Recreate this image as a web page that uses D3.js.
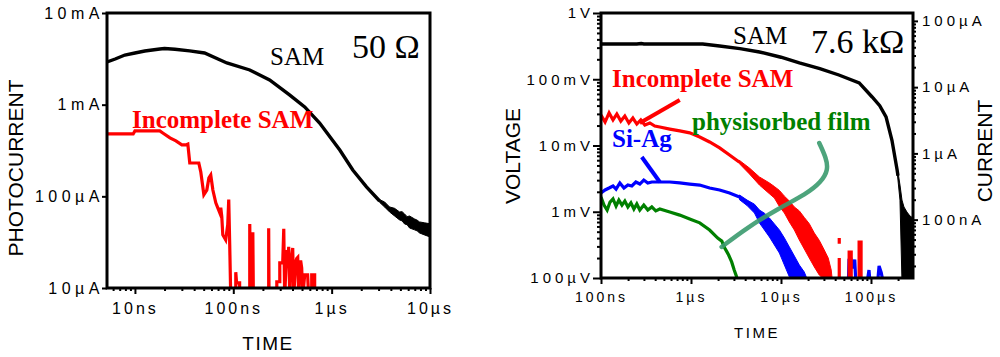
<!DOCTYPE html>
<html>
<head>
<meta charset="utf-8">
<script src="https://cdn.jsdelivr.net/npm/d3@7"></script>
<style>
	body { margin: 0; background: #fff; }
	svg { display: block; }
</style>
</head>
<body>
<svg id="chart" width="1000" height="357"></svg>
<script>

// left panel (50 ohm): time in ns, photocurrent in µA
var samLeft = [[5.2,2924],[6.3,3150],[7.9,3480],[10,3660],[12.6,3850],[15,3950],[17.9,4050],[20,4100],[25.5,4020],[36,3860],[51,3660],[86,2850],[147,2390],[234,1860],[373,1280],[532,944],[755,631],[1210,320],[1640,194],[2260,127],[3072,89]]
// noisy tail: [time, upper, lower]
var samLeftTail = [[3072,92,86],[3452,86.9,76.6],[3880,76.6,67.6],[4362,74,61.1],[4903,67.6,55.3],[5200,68,54],[5510,64.3,50],[5850,60,49],[6192,61,45.2],[6960,56.7,43.1],[7400,55,42],[7820,52.6,39.9],[8790,51.4,37.9],[10000,50.2,36.1]]

var incompleteLeft = [[5.2,479],[9.6,479],[10,517],[17.9,517],[19.2,491],[22.7,434],[26.1,402],[30,364],[33,364],[34.5,372],[36.1,231],[44.6,231],[46.7,185],[50.2,104],[53.8,117],[56.5,159],[59,171],[62,117],[66.4,85],[69.6,75],[73,66],[74.6,75],[76.4,60],[78.2,38],[83.7,33.5],[87.8,49],[89.9,92],[92,29.5],[94.2,8],
	[106,8],[106,14.9],[108,11.4],[116,11.4],[116,8],[147,8],[147,49.8],[150,8],[158,8],[158,40.6],[160,8],[229,8],[229,44.8],[231,8],
	[277,8],[277,11.7],[297,11.7],[297,18.8],[318,18.8],[326,44.2],[333,8],[349,26],[357,18.8],[366,28.1],[375,8],[383,19.3],[393,22],[402,27.3],[411,8],[431,19.3],[441,21],[452,21.6],[462,8],[473,17.9],[484,20],[496,16.6],[508,8],[532,13.9],[570,13.9],[584,8],[627,8],[627,13.9],[672,13.9],[672,8]]

var leftTimeTicks = [10, 100, 1000, 10000]
var leftTimeLabels = ['10ns', '100ns', '1µs', '10µs']
var leftCurrentTicks = [10, 100, 1000, 10000]
var leftCurrentLabels = ['10µA', '100µA', '1mA', '10mA']

// right panel (7.6 kohm): time in µs, voltage in mV
var samRight = [[0.1,340],[0.25,340],[0.28,346],[0.3,340],[1.35,340],[2.08,318],[3.5,290],[5.77,258],[10,215],[16,176],[27,145],[44,116],[74,88],[103,54],[125,40],[147,27],[171,12],[195,4.3],[199.5,3.5]]
var samRightTail = [[195,4.3,4.0],[199.5,3.98,3.01],[210,2.53,1.5],[221,1.5,0.09],[232.6,1.18,0.09],[251,0.99,0.09],[271,0.863,0.09],[293,0.805,0.09]]

var incompleteRight = [[0.1,28.9],[0.111,22.6],[0.123,31],[0.136,24.3],[0.15,29.9],[0.166,23.4],[0.184,27.9],[0.204,21.9],[0.226,26],[0.25,21.1],[0.277,24.3],[0.307,20.4],[0.349,21.9],[0.396,19.7],[0.45,19],[0.581,17.7],[0.75,16.6],[0.967,15.5],[1.25,13.4],[1.61,11.3],[2.08,9.2],[2.68,7.2],[3.46,5.6],[3.46,null],
	[44.4,0.08],[44.4,0.2],[44.4,null],[44.4,0.4],[44.4,0.33],[44.4,null],[57.2,0.08],[57.2,0.247],[60.3,0.247],[60.3,0.08],[73.8,0.08],[73.8,0.349],[77.6,0.349],[77.6,0.08]]
var incompleteRightTail = [[3.46,5.95,5.3],[4.46,4.57,3.72],[5.76,3.35,2.53],[7.44,2.72,1.87],[8.45,2.4,1.61],[9.6,2.1,1.2],[10.91,1.72,0.957],[12.39,1.45,0.7],[14.08,1.18,0.53],[15.99,1.03,0.375],[18.16,0.82,0.274],[20.63,0.66,0.2],[23.44,0.478,0.147],[26.62,0.37,0.111],[30.24,0.265,0.095],[33.49,0.2,0.095],[36.15,0.132,0.095],[37.1,0.095,0.095]]

var siAgRight = [[0.1,1.92],[0.111,2.13],[0.123,2.28],[0.136,2.45],[0.147,2.2],[0.162,2.72],[0.18,2.28],[0.199,2.53],[0.22,2.45],[0.244,2.81],[0.27,2.62],[0.299,3.01],[0.331,2.72],[0.367,2.81],[0.45,2.81],[0.581,2.81],[0.75,2.72],[0.967,2.62],[1.25,2.53],[1.61,2.28],[2.08,2.13],[2.68,1.92],[3.46,1.67],[3.46,null],
	[56,0.08],[57,0.187],[60,0.19],[63,0.14],[66,0.19],[68,0.08],[90,0.08],[95,0.132],[98,0.08],[118,0.08],[123,0.152],[130,0.12],[138,0.08]]
var siAgRightTail = [[3.46,1.79,1.52],[4.2,1.5,1.24],[5.07,1.3,0.957],[5.77,1.06,0.676],[6.55,0.95,0.531],[7.44,0.805,0.416],[8.45,0.654,0.315],[9.6,0.531,0.238],[10.91,0.402,0.157],[12.39,0.294,0.104],[14.08,0.215,0.095],[15.99,0.157,0.095],[18.16,0.123,0.095],[19.6,0.095,0.095]]

var physisorbedRight = [[0.1,1.67],[0.108,1.26],[0.117,1.06],[0.126,1.4],[0.136,1.56],[0.147,1.22],[0.158,1.5],[0.171,1.26],[0.184,1.45],[0.199,1.18],[0.215,1.36],[0.232,1.1],[0.25,1.31],[0.27,1.06],[0.299,1.26],[0.331,1.06],[0.367,1.18],[0.406,1.03],[0.45,1.1],[0.581,0.99],[0.75,0.89],[0.967,0.78],[1.25,0.68],[1.61,0.53],[1.98,0.4],[2.2,0.36],[2.37,0.284],[2.5,0.25],[2.62,0.222],[2.83,0.175],[3.02,0.132],[3.19,0.107],[3.38,0.08]]

// pointer marks drawn in data units of the right panel
var redPointer = [[0.27,21.9],[0.75,48.6]]
var bluePointer = [[0.284,6.7],[0.45,2.81]]
var greenPointer = [[26.6,10.9],[31.8,6.48],[33.5,4.27],[28,2.81],[19.1,1.85],[9.6,1.14],[4.14,0.57],[2.19,0.294]]

var rightTimeTicks = [0.1, 1, 10, 100]
var rightTimeLabels = ['100ns', '1µs', '10µs', '100µs']
var voltTicks = [0.1, 1, 10, 100, 1000]
var voltLabels = ['100µV', '1mV', '10mV', '100mV', '1V']
var ampTicks = [100, 1000, 10000, 100000]
var ampLabels = ['100nA', '1µA', '10µA', '100µA']
var loadOhm = 7600

var sans = "'Liberation Sans', Arial, sans-serif"
var serif = "'Liberation Serif', 'Times New Roman', serif"

var svg = d3.select('#chart')
svg.append('rect').attr('width', 1000).attr('height', 357).attr('fill', '#fff')

function logAxis(g, make, scale, majors, labels, o) {
	if (o.minor) {
		var minors = scale.ticks().filter(d => !majors.some(m => Math.abs(m - d) / m < 1e-6))
		g.append('g')
			.call(make(scale).tickValues(minors).tickSize(o.minor).tickFormat(''))
	}
	g.append('g')
		.call(make(scale).tickValues(majors).tickSize(o.major).tickPadding(o.pad).tickFormat((d, i) => labels[i]))
	g.selectAll('.domain').remove()
	g.selectAll('line').attr('stroke', '#000').attr('stroke-width', 2)
	g.selectAll('text')
		.attr('fill', '#000')
		.style('font-family', sans)
		.style('font-size', o.font + 'px')
		.style('letter-spacing', o.ls + 'px')
}

function addLine(g, data, x, y, color, width) {
	g.append('path')
		.datum(data)
		.attr('fill', 'none')
		.attr('stroke', color)
		.attr('stroke-width', width)
		.attr('stroke-linejoin', 'miter')
		.attr('d', d3.line().defined(d => d[1] != null).x(d => x(d[0])).y(d => y(d[1])))
}

// filled band for the part of a trace that is lost in noise
function addBand(g, data, x, y, color) {
	g.append('path')
		.datum(data)
		.attr('fill', color)
		.attr('stroke', color)
		.attr('stroke-width', 1)
		.attr('d', d3.area().x(d => x(d[0])).y0(d => y(d[2])).y1(d => y(d[1])))
}

function serifLabel(txt, xp, yp, color, size, weight) {
	svg.append('text')
		.attr('x', xp)
		.attr('y', yp)
		.attr('fill', color)
		.style('font-family', serif)
		.style('font-size', size + 'px')
		.style('font-weight', weight)
		.text(txt)
}

function leftPanel() {
	var x = d3.scaleLog().domain([5.2, 10000]).range([107, 430])
	var y = d3.scaleLog().domain([10, 10000]).range([288, 13])

	svg.append('clipPath').attr('id', 'clipL')
		.append('rect').attr('x', 107).attr('y', 13).attr('width', 323).attr('height', 275)

	var plot = svg.append('g').attr('clip-path', 'url(#clipL)')
	addLine(plot, incompleteLeft, x, y, '#ff0000', 3.2)
	addLine(plot, samLeft, x, y, '#000', 3.4)
	addBand(plot, samLeftTail, x, y, '#000')

	svg.append('rect')
		.attr('x', 107).attr('y', 13).attr('width', 323).attr('height', 275)
		.attr('fill', 'none').attr('stroke', '#000').attr('stroke-width', 3)

	logAxis(svg.append('g').attr('transform', 'translate(0,288)'), d3.axisBottom, x,
		leftTimeTicks, leftTimeLabels, {minor: 3, major: 6, pad: 9, font: 16, ls: 3})
	logAxis(svg.append('g').attr('transform', 'translate(107,0)'), d3.axisLeft, y,
		leftCurrentTicks, leftCurrentLabels, {minor: 0, major: 5, pad: -2, font: 16, ls: 4.5})

	svg.append('text')
		.attr('transform', 'translate(23,168) rotate(-90)')
		.attr('text-anchor', 'middle')
		.style('font-family', sans).style('font-size', '21px')
		.text('PHOTOCURRENT')
	svg.append('text')
		.attr('x', 268).attr('y', 350)
		.attr('text-anchor', 'middle')
		.style('font-family', sans).style('font-size', '19px').style('letter-spacing', '1.5px')
		.text('TIME')

	serifLabel('SAM', 270, 65, '#000', 25, 'normal')
	serifLabel('50 Ω', 352, 58, '#000', 34, 'normal')
	serifLabel('Incomplete SAM', 132, 128, '#ff0000', 25, 'bold')
}

function rightPanel() {
	var x = d3.scaleLog().domain([0.1, 293]).range([601, 913])
	var y = d3.scaleLog().domain([0.1, 1000]).range([278, 13])
	// current axis: I = V / R, in nA
	var y2 = d3.scaleLog().domain(y.domain().map(v => v / loadOhm * 1e6)).range([278, 13])

	svg.append('clipPath').attr('id', 'clipR')
		.append('rect').attr('x', 601).attr('y', 13).attr('width', 312).attr('height', 265)

	var plot = svg.append('g').attr('clip-path', 'url(#clipR)')
	addLine(plot, physisorbedRight, x, y, '#008000', 3.2)
	addLine(plot, siAgRight, x, y, '#0000ff', 3.2)
	addBand(plot, siAgRightTail, x, y, '#0000ff')
	addLine(plot, incompleteRight, x, y, '#ff0000', 3.2)
	addBand(plot, incompleteRightTail, x, y, '#ff0000')
	addLine(plot, samRight, x, y, '#000', 3.4)
	addBand(plot, samRightTail, x, y, '#000')

	addLine(plot, redPointer, x, y, '#ff0000', 4)
	addLine(plot, bluePointer, x, y, '#0000ff', 4)
	plot.append('path')
		.datum(greenPointer)
		.attr('fill', 'none')
		.attr('stroke', '#3a9a6e')
		.attr('stroke-opacity', 0.9)
		.attr('stroke-width', 4.5)
		.attr('stroke-linecap', 'round')
		.attr('d', d3.line().curve(d3.curveBasis).x(d => x(d[0])).y(d => y(d[1])))

	svg.append('rect')
		.attr('x', 601).attr('y', 13).attr('width', 312).attr('height', 265)
		.attr('fill', 'none').attr('stroke', '#000').attr('stroke-width', 3)

	logAxis(svg.append('g').attr('transform', 'translate(0,278)'), d3.axisBottom, x,
		rightTimeTicks, rightTimeLabels, {minor: 3, major: 6, pad: 8, font: 14, ls: 3})
	logAxis(svg.append('g').attr('transform', 'translate(601,0)'), d3.axisLeft, y,
		voltTicks, voltLabels, {minor: 4, major: 8, pad: -1, font: 15, ls: 4})
	logAxis(svg.append('g').attr('transform', 'translate(913,0)'), d3.axisRight, y2,
		ampTicks, ampLabels, {minor: 3, major: 5, pad: 4, font: 15, ls: 4})

	svg.append('text')
		.attr('transform', 'translate(520,156) rotate(-90)')
		.attr('text-anchor', 'middle')
		.style('font-family', sans).style('font-size', '21px')
		.text('VOLTAGE')
	svg.append('text')
		.attr('transform', 'translate(992,151) rotate(-90)')
		.attr('text-anchor', 'middle')
		.style('font-family', sans).style('font-size', '21px')
		.text('CURRENT')
	svg.append('text')
		.attr('x', 757).attr('y', 338)
		.attr('text-anchor', 'middle')
		.style('font-family', sans).style('font-size', '15px').style('letter-spacing', '2.5px')
		.text('TIME')

	serifLabel('SAM', 733, 44, '#000', 25, 'normal')
	serifLabel('7.6 kΩ', 811, 53, '#000', 34, 'normal')
	serifLabel('Incomplete SAM', 612, 87, '#ff0000', 25, 'bold')
	serifLabel('physisorbed film', 692, 130, '#008000', 25, 'bold')
	serifLabel('Si-Ag', 612, 147, '#0000ff', 25, 'bold')
}

leftPanel()
rightPanel()

</script>
</body>
</html>
